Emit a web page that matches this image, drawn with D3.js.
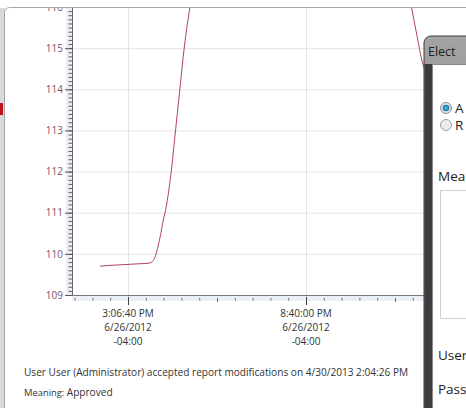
<!DOCTYPE html>
<html>
<head>
<meta charset="utf-8">
<script src="https://cdn.jsdelivr.net/npm/d3@7"></script>
<style>
  body { margin: 0; background: #fff; }
  svg { display: block; font-family: "Open Sans", "Noto Sans", sans-serif; }
</style>
</head>
<body>
<svg id="chart"></svg>
<script>
// seconds after midnight, 6/26/2012 (-04:00)
const times = [51250, 52380, 54060, 55750, 56650, 57060, 57400, 57620, 58000, 58370, 58700, 58930, 59310, 59760,
  60240, 60730, 61370, 66000, 75000, 84000, 86250, 86870, 87600, 88330]
const values = [109.70, 109.72, 109.74, 109.76, 109.77, 109.80, 109.90, 110.05, 110.40, 110.82, 111.15, 111.46, 112.10, 113.04,
  114.03, 115.03, 116.0, 119.0, 121.0, 118.5, 116.0, 115.3, 114.56, 114.3]

const yTicks = [109, 110, 111, 112, 113, 114, 115, 116]
const xTickTimes = [54400, 74400]
const xTickLabels = [
  ['3:06:40 PM', '6/26/2012', '-04:00'],
  ['8:40:00 PM', '6/26/2012', '-04:00']
]
const footerLine = 'User User (Administrator) accepted report modifications on 4/30/2013 2:04:26 PM'
const meaningLabel = 'Meaning:'
const meaningValue = 'Approved'

const W = 466, H = 408
const svg = d3.select('#chart').attr('width', W).attr('height', H)
const defs = svg.append('defs')

// page background / panel
svg.append('rect').attr('x', 0).attr('y', 8).attr('width', 5).attr('height', H).attr('fill', '#d9d9d9')
svg.append('rect').attr('x', 0).attr('y', 103).attr('width', 3).attr('height', 12).attr('fill', '#c0141c')
svg.append('rect').attr('x', 4.5).attr('y', 7.5).attr('width', 520).attr('height', 450)
  .attr('rx', 5).attr('fill', '#fff').attr('stroke', '#a6a6a6')

const plot = {left: 72, top: 7, bottom: 295, right: 424}

const x = d3.scaleLinear().domain([54400, 74400]).range([128, 306])
const y = d3.scaleLinear().domain([109, 116]).range([plot.bottom, plot.top])
const xDomain = [x.invert(plot.left), x.invert(plot.right)]

defs.append('clipPath').attr('id', 'plotclip').append('rect')
  .attr('x', plot.left).attr('y', 8).attr('width', plot.right - plot.left).attr('height', plot.bottom - 8)
defs.append('clipPath').attr('id', 'panelclip').append('rect')
  .attr('x', 0).attr('y', 8).attr('width', W).attr('height', H)

// grid
const grid = svg.append('g').attr('clip-path', 'url(#plotclip)')
grid.selectAll('.hg').data(yTicks).enter().append('line')
  .attr('x1', plot.left).attr('x2', plot.right)
  .attr('y1', d => y(d) + 0.5).attr('y2', d => y(d) + 0.5)
  .attr('stroke', '#e4e4e4')
grid.selectAll('.vg').data(xTickTimes).enter().append('line')
  .attr('x1', d => x(d) + 0.5).attr('x2', d => x(d) + 0.5)
  .attr('y1', 8).attr('y2', plot.bottom)
  .attr('stroke', '#e4e4e4')

// axis bands
svg.append('rect').attr('x', 66).attr('y', 8).attr('width', 6).attr('height', plot.bottom - 8)
  .attr('fill', '#e9eff5')
svg.append('rect').attr('x', plot.left).attr('y', plot.bottom).attr('width', plot.right - plot.left).attr('height', 6)
  .attr('fill', '#e9eff5')

// y axis
const yMinor = d3.range(1090, 1161).map(d => d / 10)
const yAxisMinor = d3.axisLeft(y).tickValues(yMinor).tickSize(3.5).tickFormat('')
const yAxisMajor = d3.axisLeft(y).tickValues(yTicks).tickSize(7).tickPadding(2).tickFormat(d3.format('d'))
const yg = svg.append('g').attr('clip-path', 'url(#panelclip)')
yg.append('g').attr('transform', `translate(${plot.left},0)`).call(yAxisMinor)
  .call(g => g.selectAll('line').attr('stroke', '#5e5e5e'))
yg.append('g').attr('transform', `translate(${plot.left},0)`).call(yAxisMajor)
  .call(g => g.selectAll('line').attr('stroke', '#555'))
  .call(g => g.selectAll('text').attr('fill', '#7d5468').attr('font-size', 10)
    .attr('font-family', '"Open Sans", sans-serif'))
yg.selectAll('.domain').attr('stroke', '#666')

// x axis
const xMinor = d3.range(54400 - 6 * 2000, xDomain[1], 2000).filter(d => d >= xDomain[0])
const xg = svg.append('g').attr('transform', `translate(0,${plot.bottom})`)
xg.append('line').attr('x1', plot.left).attr('x2', plot.right).attr('y1', 0.5).attr('y2', 0.5).attr('stroke', '#777')
xg.selectAll('.mt').data(xMinor.filter(d => !xTickTimes.includes(d))).enter().append('line')
  .attr('x1', d => x(d) + 0.5).attr('x2', d => x(d) + 0.5)
  .attr('y1', 3).attr('y2', d => ((d - 54400) % 10000 === 0) ? 7 : 5.5)
  .attr('stroke', '#6a6a6a')
xg.selectAll('.Mt').data(xTickTimes).enter().append('line')
  .attr('x1', d => x(d) + 0.5).attr('x2', d => x(d) + 0.5)
  .attr('y1', 2).attr('y2', 10)
  .attr('stroke', '#444')
const xl = xg.selectAll('.xl').data(xTickTimes).enter().append('text')
  .attr('x', d => x(d)).attr('y', 22)
  .attr('text-anchor', 'middle').attr('font-size', 10).attr('fill', '#333')
xl.selectAll('tspan').data((d, i) => xTickLabels[i]).enter().append('tspan')
  .attr('x', function () { return d3.select(this.parentNode).attr('x') })
  .attr('dy', (d, i) => i === 0 ? 0 : 14)
  .text(d => d)

// series
const line = d3.line().x((d, i) => x(times[i])).y(d => y(d)).curve(d3.curveMonotoneX)
svg.append('path').datum(values)
  .attr('clip-path', 'url(#plotclip)')
  .attr('d', line)
  .attr('fill', 'none').attr('stroke', '#b2445f').attr('stroke-width', 1)

// footer
svg.append('text').attr('x', 24).attr('y', 376).attr('font-size', 10.1).attr('fill', '#333')
  .text(footerLine)
const mt = svg.append('text').attr('x', 24).attr('y', 396).attr('fill', '#333')
mt.append('tspan').attr('font-size', 9.4).text(meaningLabel + ' ')
mt.append('tspan').attr('font-size', 10.1).text(meaningValue)

// dialog overlay (cut off by the right edge of the screenshot)
const dlg = svg.append('g')
const tg = defs.append('linearGradient').attr('id', 'titlegrad').attr('x1', 0).attr('y1', 0).attr('x2', 0).attr('y2', 1)
tg.append('stop').attr('offset', '0%').attr('stop-color', '#a4a4a4')
tg.append('stop').attr('offset', '100%').attr('stop-color', '#606060')
dlg.append('rect').attr('x', 424).attr('y', 36).attr('width', 60).attr('height', 400).attr('rx', 7)
  .attr('fill', 'url(#titlegrad)').attr('stroke', '#3a3a3a')
dlg.append('rect').attr('x', 424.5).attr('y', 64).attr('width', 8).attr('height', 350).attr('fill', '#3d3d3d')
dlg.append('rect').attr('x', 432.5).attr('y', 64.5).attr('width', 40).attr('height', 350)
  .attr('fill', '#fff').attr('stroke', '#8a8a8a')
dlg.append('text').attr('x', 428).attr('y', 56).attr('font-size', 12.5).attr('fill', '#1e1e1e').text('Elect')

const rg = defs.append('radialGradient').attr('id', 'radioOn')
rg.append('stop').attr('offset', '0%').attr('stop-color', '#4fc3f0')
rg.append('stop').attr('offset', '100%').attr('stop-color', '#1670a8')
dlg.append('circle').attr('cx', 446).attr('cy', 108).attr('r', 5.5).attr('fill', '#e6e6e6').attr('stroke', '#8c8c8c')
dlg.append('circle').attr('cx', 446).attr('cy', 108).attr('r', 3.3).attr('fill', 'url(#radioOn)')
dlg.append('circle').attr('cx', 446).attr('cy', 125).attr('r', 5.5).attr('fill', '#ececec').attr('stroke', '#a0a0a0')
dlg.append('text').attr('x', 455).attr('y', 113).attr('font-size', 13.5).attr('fill', '#222').text('A')
dlg.append('text').attr('x', 455).attr('y', 130).attr('font-size', 13.5).attr('fill', '#222').text('R')
dlg.append('text').attr('x', 438).attr('y', 181).attr('font-size', 13.5).attr('fill', '#222').text('Mea')
dlg.append('rect').attr('x', 440.5).attr('y', 190.5).attr('width', 40).attr('height', 128)
  .attr('fill', '#fff').attr('stroke', '#cfcfcf')
dlg.append('text').attr('x', 438).attr('y', 360).attr('font-size', 13.5).attr('fill', '#222').text('User')
dlg.append('text').attr('x', 438).attr('y', 394).attr('font-size', 13.5).attr('fill', '#222').text('Pass')
</script>
</body>
</html>
